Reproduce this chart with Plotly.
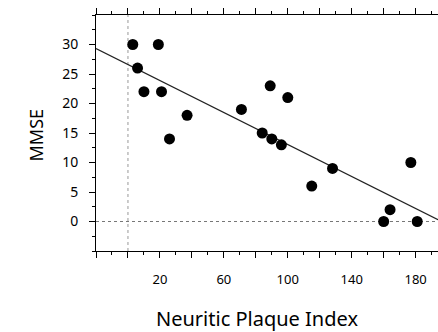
import plotly.graph_objects as go

# Data
plaque_index = [3, 19, 6, 10, 21, 37, 26, 89, 100, 71, 84, 90, 96, 128, 177, 115, 164, 160, 181]
mmse = [30, 30, 26, 22, 22, 18, 14, 23, 21, 19, 15, 14, 13, 9, 10, 6, 2, 0, 0]

# Regression line as drawn in the picture (intercept, slope)
fit_intercept = 26.6
fit_slope = -0.1355

x_tick_vals = [-20, 0, 20, 40, 60, 80, 100, 120, 140, 160, 180]
x_tick_text = ["", "", "20", "", "60", "", "100", "", "140", "", "180"]
y_tick_vals = [0, 5, 10, 15, 20, 25, 30]
y_tick_text = ["0", "5", "10", "15", "20", "25", "30"]

x_range = [-20, 194]
y_range = [-5, 35]

fit_x = list(x_range)
fit_y = [fit_intercept + fit_slope * v for v in fit_x]

font_family = "Noto Sans, DejaVu Sans, sans-serif"

fig = go.Figure()
fig.add_trace(go.Scatter(x=fit_x, y=fit_y, mode="lines",
                         line=dict(color="#222", width=1.2), hoverinfo="skip"))
fig.add_trace(go.Scatter(x=plaque_index, y=mmse, mode="markers",
                         marker=dict(color="black", size=11)))

fig.add_shape(type="line", x0=x_range[0], x1=x_range[1], y0=0, y1=0,
              line=dict(color="#777", width=1, dash="dot"), layer="below")
fig.add_shape(type="line", x0=0, x1=0, y0=y_range[0], y1=y_range[1],
              line=dict(color="#999", width=1, dash="dot"), layer="below")

fig.update_layout(
    width=438, height=332,
    margin=dict(l=96, r=0, t=15, b=81),
    paper_bgcolor="white", plot_bgcolor="white",
    showlegend=False,
    font=dict(family=font_family, color="black", size=13),
    annotations=[
        dict(text="Neuritic Plaque Index", xref="paper", yref="paper",
             x=0.47, y=-0.284, xanchor="center", yanchor="middle",
             showarrow=False, font=dict(size=20, family=font_family)),
        dict(text="MMSE", xref="paper", yref="paper", textangle=-90,
             x=-0.175, y=0.49, xanchor="center", yanchor="middle",
             showarrow=False, font=dict(size=18, family=font_family)),
    ],
)
fig.update_xaxes(
    range=x_range, showgrid=False, zeroline=False,
    showline=True, linecolor="black", linewidth=1, mirror="ticks",
    tickmode="array", tickvals=x_tick_vals, ticktext=x_tick_text,
    ticks="outside", ticklen=6, tickcolor="black", ticklabelstandoff=10,
    minor=dict(dtick=10, tick0=0, ticklen=3, ticks="outside", tickcolor="black"),
    tickfont=dict(size=13),
)
fig.update_yaxes(
    range=y_range, showgrid=False, zeroline=False,
    showline=True, linecolor="black", linewidth=1, mirror=False,
    tickmode="array", tickvals=y_tick_vals, ticktext=y_tick_text,
    ticks="outside", ticklen=6, tickcolor="black", ticklabelstandoff=8,
    minor=dict(dtick=2.5, tick0=0, ticklen=3, ticks="outside", tickcolor="black"),
    tickfont=dict(size=14),
)

fig.write_html("out.html")
